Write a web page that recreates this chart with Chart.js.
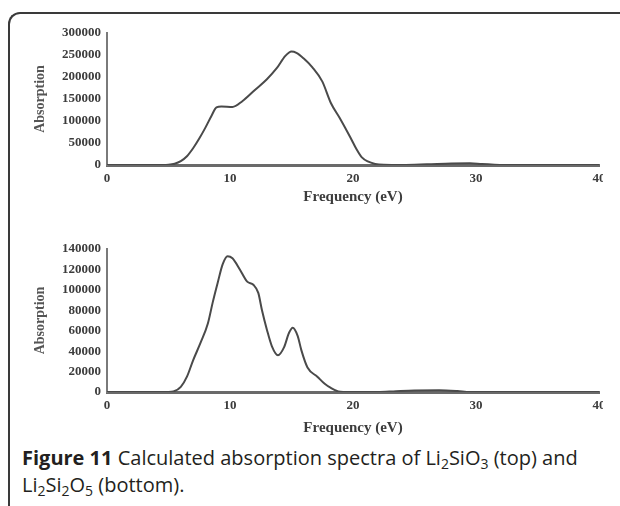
<!doctype html>
<html>

<head>
	<title>Absorption spectra</title>
	<script src="https://cdn.jsdelivr.net/npm/chart.js@4/dist/chart.umd.min.js"></script>
	<style>
		body {
			margin: 0;
			width: 620px;
			height: 506px;
			overflow: hidden;
			background: #fff;
			position: relative;
		}
		.frame {
			position: absolute;
			left: 8px;
			top: 12px;
			width: 700px;
			height: 600px;
			border-left: 2px solid #3a3a3a;
			border-top: 2px solid #3a3a3a;
			border-top-left-radius: 12px;
		}
		canvas {
			position: absolute;
			left: 0;
		}
		.caption {
			position: absolute;
			left: 22px;
			top: 444px;
			font-family: "Open Sans", sans-serif;
			font-size: 20px;
			line-height: 27px;
			color: #231f20;
		}
		.caption sub {
			font-size: 0.7em;
			vertical-align: -0.3em;
			line-height: 0;
		}
	</style>
</head>

<body>
	<div class="frame"></div>
	<canvas id="top" width="603" height="212" style="top:0px"></canvas>
	<canvas id="bottom" width="603" height="223" style="top:216px"></canvas>
	<div class="caption"><b>Figure 11</b> Calculated absorption spectra of Li<sub>2</sub>SiO<sub>3</sub> (top) and<br>Li<sub>2</sub>Si<sub>2</sub>O<sub>5</sub> (bottom).</div>
	<script>
		// Li2SiO3 spectrum (eV, absorption)
		const li2sio3Energy = [0, 4.5, 5, 5.5, 6, 6.5, 7, 7.5, 8, 8.5, 8.9, 9.3, 10.2, 11, 12, 13, 13.8, 14.5, 15, 15.4, 16, 16.7, 17.5, 18.2, 19, 19.8, 20.3, 20.7, 21.2, 21.8, 22.5, 24, 26, 28, 29.5, 30.5, 31.5, 33, 40];
		const li2sio3Abs = [0, 0, 500, 3000, 9000, 20000, 38000, 60000, 85000, 112000, 131000, 133000, 132000, 145000, 170000, 195000, 220000, 248000, 258000, 255000, 242000, 222000, 190000, 141000, 103000, 62000, 35000, 18000, 8000, 2500, 500, 0, 1500, 3500, 4000, 2000, 800, 0, 0];

		// Li2Si2O5 spectrum (eV, absorption)
		const li2si2o5Energy = [0, 5, 5.4, 6, 6.5, 7, 7.6, 8.2, 8.6, 9, 9.4, 9.8, 10.2, 10.8, 11.4, 11.9, 12.3, 12.6, 13, 13.4, 13.9, 14.4, 14.8, 15.1, 15.5, 15.8, 16.3, 17.1, 17.7, 18.2, 18.8, 19.2, 22, 23.5, 25, 27, 28.5, 29.5, 40];
		const li2si2o5Abs = [0, 0, 500, 5000, 15000, 31000, 48000, 67000, 88000, 107000, 125000, 133000, 131000, 120000, 108000, 105000, 97000, 80000, 61000, 45000, 36000, 44000, 58000, 63000, 55000, 41000, 24000, 15000, 8000, 4000, 500, 0, 0, 800, 1500, 1800, 1000, 0, 0];

		const freqTicks = [0, 10, 20, 30, 40];

		const serif = '"Liberation Serif", "Times New Roman", serif';
		const inkColor = '#3c3c3c';

		function toPoints(xs, ys) {
			return xs.map((x, i) => ({ x: x, y: ys[i] }));
		}

		function makeSpectrum(id, xs, ys, yMax, yStep, titlePad) {
			const ctx = document.getElementById(id).getContext('2d');
			return new Chart(ctx, {
				type: 'line',
				data: {
					datasets: [{
						data: toPoints(xs, ys),
						borderColor: '#4a4a4a',
						borderWidth: 2,
						pointRadius: 0,
						fill: false,
						cubicInterpolationMode: 'monotone'
					}]
				},
				options: {
					responsive: false,
					animation: false,
					layout: { padding: { left: 32, right: 4, top: 33, bottom: 2 } },
					plugins: {
						legend: { display: false },
						tooltip: { enabled: false }
					},
					scales: {
						x: {
							type: 'linear',
							min: 0,
							max: 40,
							afterBuildTicks(scale) {
								scale.ticks = freqTicks.map(v => ({ value: v }));
							},
							afterFit(scale) {
								scale.height = 45;
								// let the last label run off the edge instead of shrinking the plot
								scale.paddingLeft = 0;
								scale.paddingRight = 0;
							},
							grid: { display: false, drawTicks: false },
							border: { display: true, color: '#6a6a6a', width: 3 },
							ticks: {
								padding: 6,
								maxRotation: 0,
								autoSkip: false,
								color: inkColor,
								font: { family: serif, size: 13, weight: 'bold' },
								callback: v => String(v)
							},
							title: {
								display: true,
								text: 'Frequency (eV)',
								color: inkColor,
								padding: { top: 0, bottom: titlePad },
								font: { family: serif, size: 15, weight: 'bold' }
							}
						},
						y: {
							min: 0,
							max: yMax,
							afterFit(scale) { scale.width = 75; },
							grid: { display: false, drawTicks: false },
							border: { display: true, color: '#7a7a7a', width: 2 },
							ticks: {
								stepSize: yStep,
								padding: 6,
								color: inkColor,
								font: { family: serif, size: 13, weight: 'bold' },
								callback: v => String(v)
							},
							title: {
								display: true,
								text: 'Absorption',
								color: '#555',
								padding: { top: 0, bottom: 0 },
								font: { family: serif, size: 14, weight: 'bold' }
							}
						}
					}
				}
			});
		}

		makeSpectrum('top', li2sio3Energy, li2sio3Abs, 300000, 50000, 4);
		makeSpectrum('bottom', li2si2o5Energy, li2si2o5Abs, 140000, 20000, 0);
	</script>
</body>

</html>
